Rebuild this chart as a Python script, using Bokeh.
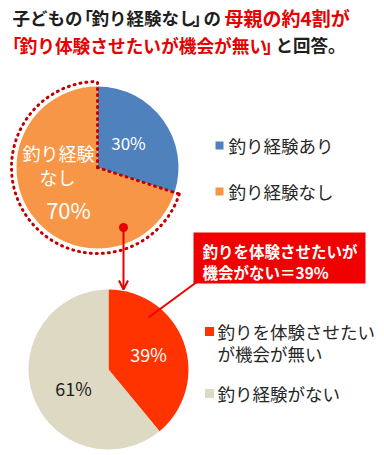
import math
from bokeh.plotting import figure
from bokeh.models import Range1d, Arrow, OpenHead
from bokeh.core.properties import value
from bokeh.embed import file_html
from bokeh.resources import INLINE

# ---------------- data ----------------
top_labels = ["釣り経験あり", "釣り経験なし"]
top_values = [30, 70]
top_colors = ["#4F81BD", "#F79646"]

bottom_labels = [["釣りを体験させたい", "が機会が無い"], ["釣り経験がない"]]
bottom_values = [39, 61]
bottom_colors = ["#FF3300", "#DDD9C3"]

# title pieces: (text, colour key)
title_line1 = [("子どもの", "k"), ("「", "k"), ("釣り経験なし", "k"), ("」", "k"), ("の", "k"),
               ("母親の約4割が", "r")]
title_line2 = [("「", "r"), ("釣り体験させたいが機会が無い", "r"), ("」", "r"), ("と回答。", "k")]
callout_lines = ["釣りを体験させたいが", "機会がない＝39%"]
top_inner_label = ["釣り経験", "なし"]

# ---------------- layout ----------------
W, H = 384, 455
FONT = "Noto Sans CJK JP"
DARK = "#1E1E1E"
RED = "#E60000"
COLS = {"k": DARK, "r": RED}


def X(px):
    return px


def Y(py):
    return H - py


p = figure(width=W, height=H, output_backend="svg", toolbar_location=None,
           x_range=Range1d(0, W), y_range=Range1d(0, H),
           x_axis_type=None, y_axis_type=None, min_border=0)
p.grid.visible = False
p.outline_line_color = None
p.background_fill_color = "white"
p.border_fill_color = "white"


def txt(x, y, s, size, color, bold=False, align="left"):
    p.text(x=[X(x)], y=[Y(y)], text=[s], text_font=value(FONT),
           text_font_size=f"{size}px", text_color=color,
           text_font_style="bold" if bold else "normal",
           text_align=align, text_baseline="middle")


def pct(v, vals):
    return f"{round(100 * v / sum(vals))}%"


def angles(vals):
    tot = sum(vals)
    cum = 0
    out = []
    for v in vals:
        s = math.pi / 2 - 2 * math.pi * cum / tot
        cum += v
        e = math.pi / 2 - 2 * math.pi * cum / tot
        out.append((s, e))
    return out


# ---------------- title ----------------
l1_x = [12, 75, 91, 192, 203, 224]
l1_size = [17.5, 17.5, 17.5, 17.5, 17.5, 19]
for (s, c), x, fs in zip(title_line1, l1_x, l1_size):
    txt(x, 17, s, fs, COLS[c], bold=True)
l2_x = [3, 19, 263, 275]
l2_size = [17.7, 17.7, 17.7, 17.5]
for (s, c), x, fs in zip(title_line2, l2_x, l2_size):
    txt(x, 44, s, fs, COLS[c], bold=True)

# ---------------- top pie ----------------
cx1, cy1, r1 = 97, 167, 81
ta = angles(top_values)
p.wedge(x=[X(cx1)] * 2, y=[Y(cy1)] * 2, radius=r1,
        start_angle=[a[0] for a in ta], end_angle=[a[1] for a in ta],
        direction="clock", fill_color=top_colors, line_color=None)

# dotted outline around the "なし" slice
ro = 86
DOT = dict(line_color="#C00000", line_width=3, line_dash="1 5", line_cap="round")
s_ang, e_ang = ta[1]
p.arc(x=[X(cx1)], y=[Y(cy1)], radius=ro, start_angle=s_ang, end_angle=e_ang,
      direction="clock", **DOT)
p.line(x=[X(cx1), X(cx1)], y=[Y(cy1), Y(cy1) + ro], **DOT)
p.line(x=[X(cx1), X(cx1) + ro * math.cos(s_ang)],
       y=[Y(cy1), Y(cy1) + ro * math.sin(s_ang)], **DOT)

txt(128, 142, pct(top_values[0], top_values), 17, "white", align="center")
txt(58, 152, top_inner_label[0], 18, "white", align="center")
txt(57, 176, top_inner_label[1], 18, "white", align="center")
txt(68, 208, pct(top_values[1], top_values), 22, "white", align="center")

# top legend
for i, (lab, col) in enumerate(zip(top_labels, top_colors)):
    ly = 145 + i * 46
    p.rect(x=[X(219)], y=[Y(ly)], width=8, height=8, fill_color=col, line_color=None)
    txt(228, ly, lab, 17.5, "#262626")

# ---------------- arrow ----------------
p.scatter(x=[X(123)], y=[Y(227)], size=9, fill_color=RED, line_color=None)
p.add_layout(Arrow(end=OpenHead(size=9, line_color=RED, line_width=2),
                   x_start=X(123), y_start=Y(227), x_end=X(123), y_end=Y(289),
                   line_color=RED, line_width=2))

# ---------------- bottom pie ----------------
cx2, cy2, r2 = 108, 369, 80
ba = angles(bottom_values)
p.wedge(x=[X(cx2)] * 2, y=[Y(cy2)] * 2, radius=r2,
        start_angle=[a[0] for a in ba], end_angle=[a[1] for a in ba],
        direction="clock", fill_color=bottom_colors, line_color=None)
txt(148, 353, pct(bottom_values[0], bottom_values), 18, "white", align="center")
txt(73, 387, pct(bottom_values[1], bottom_values), 18, DARK, align="center")

# callout
p.line(x=[X(197), X(148)], y=[Y(281), Y(317)], line_color="#F00000", line_width=2)
p.quad(left=[X(193)], right=[X(365)], top=[Y(232)], bottom=[Y(283)],
       fill_color="#F00000", line_color=None)
txt(202, 250, callout_lines[0], 15.5, "white", bold=True)
txt(202, 271, callout_lines[1], 15.5, "white", bold=True)

# bottom legend
leg_y = [331, 393]
for lines, col, ly in zip(bottom_labels, bottom_colors, leg_y):
    p.rect(x=[X(209)], y=[Y(ly)], width=9, height=9, fill_color=col, line_color=None)
    for j, ln in enumerate(lines):
        txt(217, ly + j * 22, ln, 17.5, "#262626")

open("out.html", "w").write(file_html(p, INLINE))
